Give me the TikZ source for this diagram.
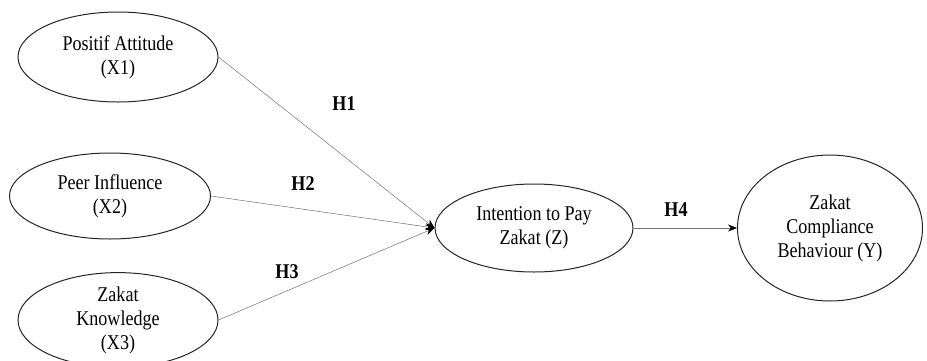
\documentclass[tikz,border=0pt]{standalone}
\usepackage{fontspec}
\setmainfont{Liberation Serif}
\newfontfamily\condfont[FakeStretch=0.86]{Liberation Serif}
\usetikzlibrary{shapes.geometric,arrows.meta}
\begin{document}
\begin{tikzpicture}[x=1pt,y=-1pt,
  lat/.style={draw=black!85, line width=1pt, ellipse, inner sep=0pt, align=center,
    font=\condfont\fontsize{21}{24}\selectfont},
  path/.style={draw=black!55, line width=0.5pt, -{Stealth[length=9pt,width=7pt,color=black]}},
  hlab/.style={font=\condfont\fontsize{21}{24}\selectfont\bfseries, inner sep=0pt}]
\useasboundingbox (0,0) rectangle (927,360);
\clip (0,0) rectangle (927,360);
\fill[white] (0,0) rectangle (927,360);
\node[lat, minimum width=200pt, minimum height=90pt] (x1) at (118,57) {Positif Attitude\\(X1)};
\node[lat, minimum width=201pt, minimum height=86pt] (x2) at (110,196) {Peer Influence\\(X2)};
\node[lat, minimum width=200pt, minimum height=88pt] (x3) at (118,320) {Zakat\\Knowledge\\(X3)};
\node[lat, minimum width=198pt, minimum height=88pt] (z) at (534,228) {Intention to Pay\\Zakat (Z)};
\node[lat, minimum width=185pt, minimum height=146pt] (y) at (830,228) {Zakat\\Compliance\\Behaviour (Y)};
\draw[path] (x1.east) -- (z.west);
\draw[path] (x2.east) -- (z.west);
\draw[path] (x3.east) -- (z.west);
\draw[path] (z.east) -- (y.west);
\node[hlab] (h1) at (344,104) {H1};
\node[hlab] (h2) at (303,184) {H2};
\node[hlab] (h3) at (287,272) {H3};
\node[hlab] (h4) at (676,210) {H4};
\end{tikzpicture}
\end{document}
